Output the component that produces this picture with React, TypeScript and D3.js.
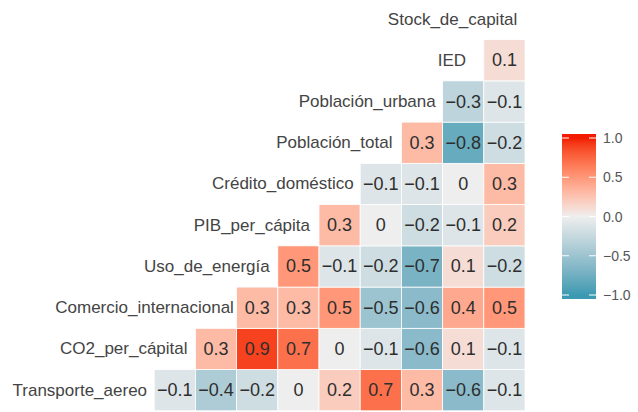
import React from "react";
import * as d3 from "d3";

const variables = [
  "Transporte_aereo",
  "CO2_per_cápital",
  "Comercio_internacional",
  "Uso_de_energía",
  "PIB_per_cápita",
  "Crédito_doméstico",
  "Población_total",
  "Población_urbana",
  "IED",
  "Stock_de_capital",
];

// correlations of each variable with the variables that follow it
const corrTransporte = [-0.1, -0.4, -0.2, 0, 0.2, 0.7, 0.3, -0.6, -0.1];
const corrCO2 = [0.3, 0.9, 0.7, 0, -0.1, -0.6, 0.1, -0.1];
const corrComercio = [0.3, 0.3, 0.5, -0.5, -0.6, 0.4, 0.5];
const corrUso = [0.5, -0.1, -0.2, -0.7, 0.1, -0.2];
const corrPIB = [0.3, 0, -0.2, -0.1, 0.2];
const corrCredito = [-0.1, -0.1, 0, 0.3];
const corrPobTotal = [0.3, -0.8, -0.2];
const corrPobUrbana = [-0.3, -0.1];
const corrIED = [0.1];

const corrRows = [
  corrTransporte,
  corrCO2,
  corrComercio,
  corrUso,
  corrPIB,
  corrCredito,
  corrPobTotal,
  corrPobUrbana,
  corrIED,
];

const legendTicks = [1.0, 0.5, 0.0, -0.5, -1.0];

const W = 638;
const H = 412;

const lowC = "#3B9AB2";
const midC = "#EEEEEE";
const highC = "#F21A00";

function fillFor(v: number) {
  if (v >= 0) return d3.interpolateLab(midC, highC)(Math.min(1, v));
  return d3.interpolateLab(midC, lowC)(Math.min(1, -v));
}

export default function App() {
  const x = d3
    .scaleBand<string>()
    .domain(variables)
    .range([113, 525])
    .padding(0);
  const y = d3
    .scaleBand<string>()
    .domain([...variables].reverse())
    .range([-1.6, 410.8])
    .padding(0);
  const bw = x.bandwidth();
  const bh = y.bandwidth();

  const cells: { row: string; col: string; v: number }[] = [];
  corrRows.forEach((vals, i) => {
    vals.forEach((v, k) => {
      cells.push({ row: variables[i], col: variables[i + 1 + k], v });
    });
  });

  const ly = d3.scaleLinear().domain([-1, 1]).range([295, 138]);
  const barX = 562;
  const barW = 34;
  const barTop = 134;
  const barBot = 299;
  const stops = d3.range(0, 41).map((i) => {
    const t = i / 40;
    const yy = barTop + t * (barBot - barTop);
    const v = ly.invert(yy);
    return { off: t, col: fillFor(Math.max(-1, Math.min(1, v))) };
  });

  const fmt = (v: number) => {
    const s = v === 0 ? "0" : v.toFixed(1);
    return s.replace("-", "\u2212");
  };

  return (
    <svg
      width={W}
      height={H}
      style={{ position: "absolute", left: 0, top: 0, background: "#fff" }}
      fontFamily="'Liberation Sans', Arial, sans-serif"
    >
      <defs>
        <linearGradient id="lg" x1="0" y1="0" x2="0" y2="1">
          {stops.map((s, i) => (
            <stop key={i} offset={s.off} stopColor={s.col} />
          ))}
        </linearGradient>
      </defs>
      <rect x={0} y={0} width={W} height={H} fill="#fff" />
      {cells.map((c, i) => (
        <g key={i}>
          <rect
            x={x(c.col)!}
            y={y(c.row)!}
            width={bw}
            height={bh}
            fill={fillFor(c.v)}
            stroke="#fff"
            strokeWidth={0.8}
          />
          <text
            x={x(c.col)! + bw / 2}
            y={y(c.row)! + bh / 2}
            textAnchor="middle"
            dominantBaseline="central"
            fontSize={18}
            fill="#2e2e2e"
          >
            {fmt(c.v)}
          </text>
        </g>
      ))}
      {variables.map((v) => (
        <text
          key={v}
          x={x(v)! + bw / 2}
          y={y(v)! + bh / 2}
          dominantBaseline="central"
          textAnchor="middle"
          fontSize={17}
          fill="#444"
          ref={(el) => {
            if (el) {
              const len = el.getComputedTextLength();
              el.setAttribute("x", String(x(v)! + bw / 2 - 0.4 * len));
            }
          }}
        >
          {v}
        </text>
      ))}
      <rect x={barX} y={barTop} width={barW} height={barBot - barTop} fill="url(#lg)" />
      {legendTicks.map((t) => (
        <g key={t}>
          <line x1={barX} x2={barX + 7} y1={ly(t)} y2={ly(t)} stroke="#fff" strokeWidth={1} />
          <line x1={barX + barW - 7} x2={barX + barW} y1={ly(t)} y2={ly(t)} stroke="#fff" strokeWidth={1} />
          <text
            x={603}
            y={ly(t)}
            dominantBaseline="central"
            fontSize={14}
            fill="#555"
          >
            {t.toFixed(1).replace("-", "\u2212")}
          </text>
        </g>
      ))}
    </svg>
  );
}
